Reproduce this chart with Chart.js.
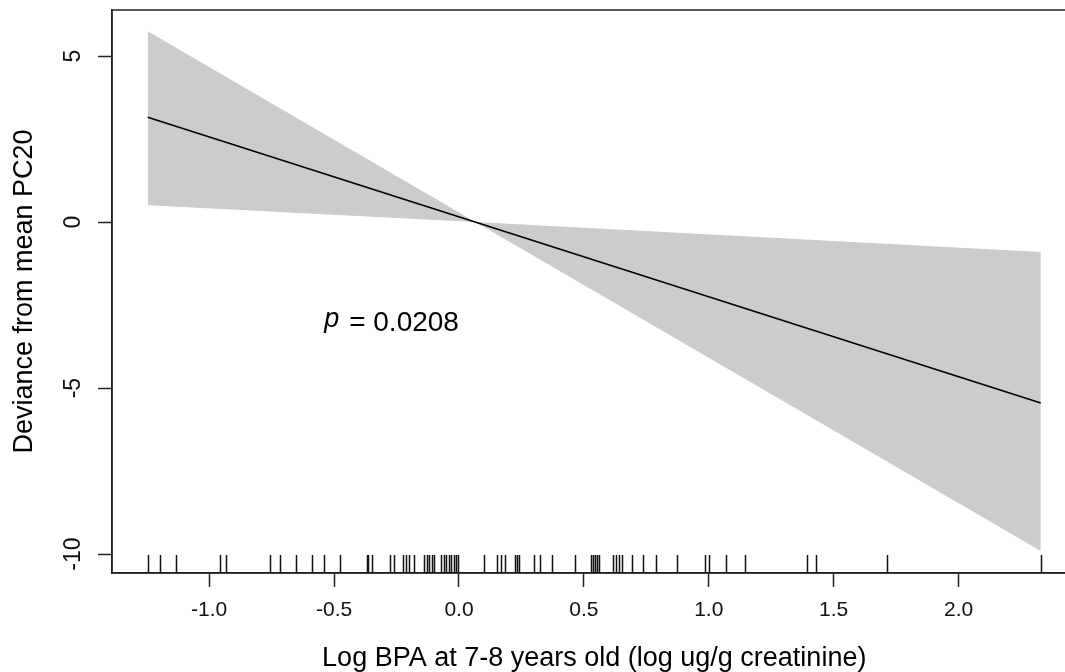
<!DOCTYPE html>
<html>
<head>
<meta charset="utf-8">
<script src="https://cdn.jsdelivr.net/npm/chart.js@4.4.1/dist/chart.umd.min.js"></script>
<style>
  html, body { margin: 0; padding: 0; background: #ffffff; overflow: hidden; }
  #wrap { width: 1065px; height: 672px; overflow: hidden; }
  canvas { display: block; }
</style>
</head>
<body>
<div id="wrap"><canvas id="c" width="1090" height="672"></canvas></div>
<script>
// ---- data ----
const fitX = [-1.246, 2.329];
const fitY = [3.16, -5.45];
const bandX = [-1.246, 0.066, 2.329];
const bandUpper = [5.75, 0.0, -0.90];
const bandLower = [0.51, 0.0, -9.91];
const rugX = [
  -1.244, -1.195, -1.134, -0.958, -0.934, -0.758, -0.715, -0.654, -0.589, -0.541, -0.478,
  -0.370, -0.365, -0.348, -0.275, -0.261, -0.224, -0.213, -0.201, -0.179, -0.139, -0.128,
  -0.119, -0.109, -0.101, -0.072, -0.061, -0.052, -0.041, -0.032, -0.019, -0.012, -0.005,
  0.101, 0.152, 0.168, 0.185, 0.224, 0.232, 0.241, 0.299, 0.324, 0.374, 0.464,
  0.530, 0.537, 0.544, 0.552, 0.560, 0.618, 0.630, 0.642, 0.654, 0.694, 0.737, 0.787,
  0.873, 0.984, 1.002, 1.067, 1.144, 1.394, 1.428, 1.713, 2.329
];
const xTicks = [-1.0, -0.5, 0.0, 0.5, 1.0, 1.5, 2.0];
const yTicks = [-10, -5, 0, 5];
const xTitle = 'Log BPA at 7-8 years old (log ug/g creatinine)';
const yTitle = 'Deviance from mean PC20';
const pLabel = { x: -0.27, y: -3.05, name: 'p', value: '= 0.0208' };

const FONT = '"Liberation Sans", Arial, Helvetica, sans-serif';
const INK = '#222222';

const toXY = (xs, ys) => xs.map((x, i) => ({ x: x, y: ys[i] }));

const overlay = {
  id: 'overlay',
  afterDraw(chart) {
    const { ctx, chartArea: a, scales: { x, y } } = chart;
    ctx.save();
    // frame
    ctx.strokeStyle = INK;
    ctx.lineWidth = 1.5;
    ctx.strokeRect(a.left, a.top, a.right - a.left, a.bottom - a.top);
    // rug
    ctx.lineWidth = 1.5;
    ctx.strokeStyle = '#111';
    ctx.beginPath();
    rugX.forEach(v => {
      const px = Math.round(x.getPixelForValue(v)) + 0.5;
      ctx.moveTo(px, a.bottom);
      ctx.lineTo(px, a.bottom - 18);
    });
    ctx.stroke();
    // y tick labels (rotated, as in R)
    ctx.fillStyle = '#111';
    ctx.font = '23px ' + FONT;
    ctx.textAlign = 'center';
    ctx.textBaseline = 'middle';
    yTicks.forEach(v => {
      ctx.save();
      ctx.translate(74, y.getPixelForValue(v));
      ctx.rotate(-Math.PI / 2);
      ctx.fillText(String(v), 0, 0);
      ctx.restore();
    });
    // p annotation
    const cx = x.getPixelForValue(pLabel.x);
    const cy = y.getPixelForValue(pLabel.y);
    ctx.textAlign = 'left';
    ctx.textBaseline = 'middle';
    ctx.font = 'italic 27px ' + FONT;
    const wp = ctx.measureText(pLabel.name).width;
    ctx.font = '28px ' + FONT;
    const gap = 10;
    const wv = ctx.measureText(pLabel.value).width;
    const x0 = cx - (wp + gap + wv) / 2;
    ctx.fillStyle = '#000';
    ctx.font = 'italic 27px ' + FONT;
    ctx.fillText(pLabel.name, x0, cy - 4);
    ctx.font = '28px ' + FONT;
    ctx.fillText(pLabel.value, x0 + wp + gap, cy);
    ctx.restore();
  }
};

new Chart(document.getElementById('c'), {
  type: 'line',
  data: {
    datasets: [
      {
        label: 'fit',
        data: toXY(fitX, fitY),
        borderWidth: 1.6,
        borderColor: '#000000',
        pointRadius: 0,
        fill: false,
        tension: 0,
        order: 0
      },
      {
        label: 'upper',
        data: toXY(bandX, bandUpper),
        borderWidth: 0,
        borderColor: 'rgba(0,0,0,0)',
        backgroundColor: '#cccccc',
        pointRadius: 0,
        fill: '+1',
        tension: 0,
        order: 2
      },
      {
        label: 'lower',
        data: toXY(bandX, bandLower),
        borderWidth: 0,
        borderColor: 'rgba(0,0,0,0)',
        backgroundColor: '#cccccc',
        pointRadius: 0,
        fill: false,
        tension: 0,
        order: 3
      }
    ]
  },
  options: {
    responsive: false,
    animation: false,
    devicePixelRatio: 1,
    layout: { padding: { top: 10, right: 13.5, left: 0, bottom: 0 } },
    plugins: { legend: { display: false }, tooltip: { enabled: false }, filler: { drawTime: 'beforeDatasetsDraw' } },
    scales: {
      x: {
        type: 'linear',
        min: -1.389,
        max: 2.472,
        afterBuildTicks: s => { s.ticks = xTicks.map(v => ({ value: v })); },
        afterFit: s => { s.height = 99; },
        grid: { drawOnChartArea: false, drawTicks: true, tickLength: 14, tickColor: INK, tickWidth: 1.5 },
        border: { display: true, color: INK, width: 1.5 },
        ticks: {
          autoSkip: false, maxRotation: 0, minRotation: 0, padding: 11,
          color: '#111', font: { family: FONT, size: 21 },
          callback: v => Number(v).toFixed(1)
        },
        title: {
          display: true, text: xTitle, color: '#000',
          font: { family: FONT, size: 27, lineHeight: 1.0 },
          padding: { top: 0, bottom: 0 }
        }
      },
      y: {
        type: 'linear',
        min: -10.57,
        max: 6.39,
        afterBuildTicks: s => { s.ticks = yTicks.map(v => ({ value: v })); },
        afterFit: s => { s.width = 112; },
        grid: { drawOnChartArea: false, drawTicks: true, tickLength: 14, tickColor: INK, tickWidth: 1.5 },
        border: { display: true, color: INK, width: 1.5 },
        ticks: { display: false },
        title: {
          display: true, text: yTitle, color: '#000',
          font: { family: FONT, size: 27, lineHeight: 1.0 },
          padding: { top: 11, bottom: 0 }
        }
      }
    }
  },
  plugins: [overlay]
});
</script>
</body>
</html>
